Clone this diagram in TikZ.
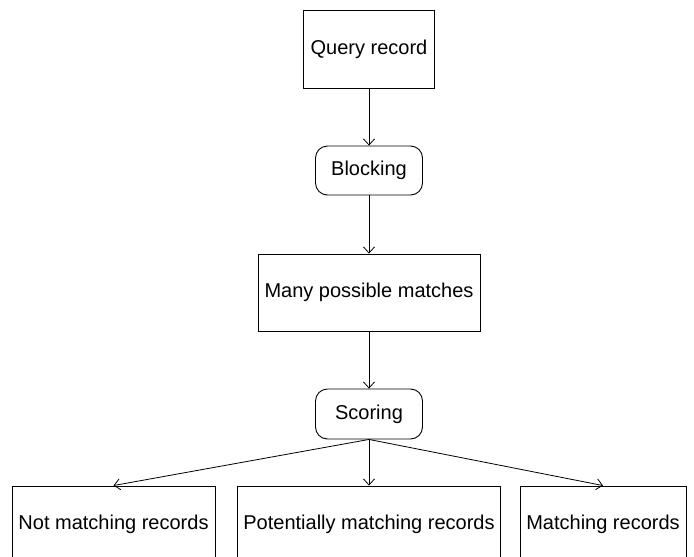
\documentclass[tikz,border=0pt]{standalone}
\usepackage{fontspec}
\setmainfont{Liberation Sans}
\usetikzlibrary{arrows.meta}
\begin{document}
\begin{tikzpicture}[x=1pt,y=-1pt,
  box/.style={draw, line width=0.9pt, inner sep=0pt, font=\fontsize{20}{24}\selectfont},
  rbox/.style={box, rounded corners=12pt},
  conn/.style={draw, line width=0.8pt, -{Straight Barb[length=6pt,width=11pt]}}]
\useasboundingbox (0,0) rectangle (694,557);
\node[box, minimum width=131pt, minimum height=78pt] (q) at (369,49) {Query record};
\node[rbox, minimum width=107pt, minimum height=49pt] (b) at (369,170.5) {Blocking};
\node[box, minimum width=222pt, minimum height=77pt] (m) at (369,292.5) {Many possible matches};
\node[rbox, minimum width=107pt, minimum height=50pt] (s) at (369,414) {Scoring};
\node[box, minimum width=203pt, minimum height=77pt] (n1) at (113.5,524.5) {Not matching records};
\node[box, minimum width=263pt, minimum height=77pt] (n2) at (369,524.5) {Potentially matching records};
\node[box, minimum width=166pt, minimum height=77pt] (n3) at (603,524.5) {Matching records};
\draw[conn] (q) -- (b);
\draw[conn] (b) -- (m);
\draw[conn] (m) -- (s);
\draw[conn] (s.south) -- (n1.north);
\draw[conn] (s.south) -- (n2.north);
\draw[conn] (s.south) -- (n3.north);
\end{tikzpicture}
\end{document}
